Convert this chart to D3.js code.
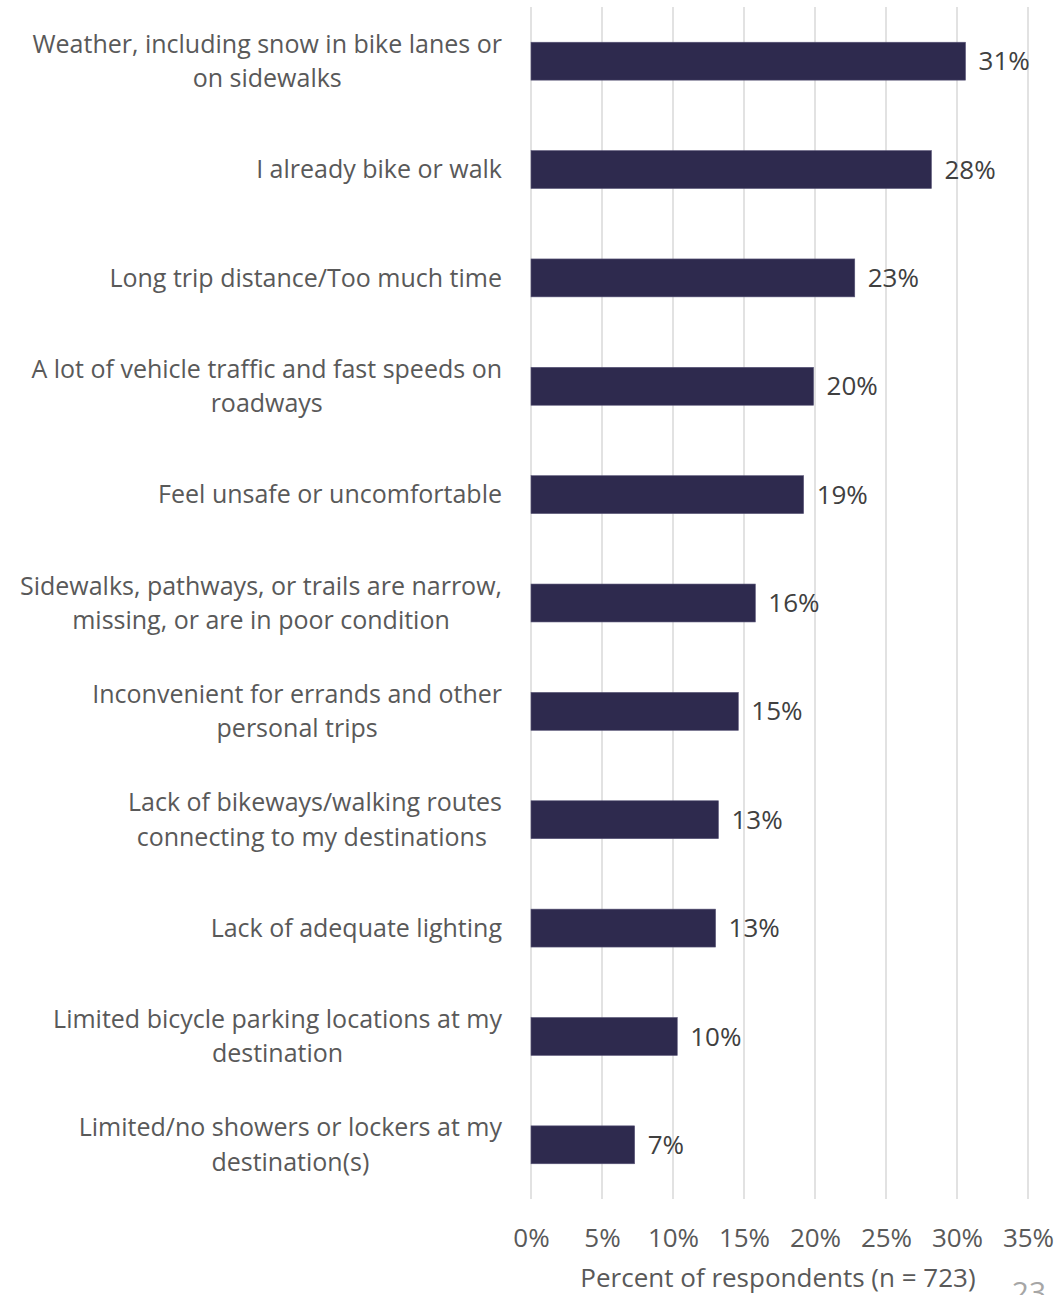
<!DOCTYPE html>
<html>
<head>
<meta charset="utf-8">
<script src="https://cdn.jsdelivr.net/npm/d3@7"></script>
<style>
  html, body { margin: 0; padding: 0; background: #ffffff; }
  svg text { font-family: "Open Sans", "Noto Sans", sans-serif; white-space: pre; }
</style>
</head>
<body>
<svg id="chart" width="1061" height="1295"></svg>
<script>
// Barriers to biking or walking, share of respondents
const categories = [
  ["Weather, including snow in bike lanes or", "on sidewalks"],
  ["I already bike or walk"],
  ["Long trip distance/Too much time"],
  ["A lot of vehicle traffic and fast speeds on", "roadways"],
  ["Feel unsafe or uncomfortable"],
  ["Sidewalks, pathways, or trails are narrow,", "missing, or are in poor condition"],
  ["Inconvenient for errands and other", "personal trips"],
  ["Lack of bikeways/walking routes", "connecting to my destinations "],
  ["Lack of adequate lighting"],
  ["Limited bicycle parking locations at my", "destination"],
  ["Limited/no showers or lockers at my", "destination(s)"]
];
const values = [0.306, 0.282, 0.228, 0.199, 0.192, 0.158, 0.146, 0.132, 0.130, 0.103, 0.073];
const tickValues = [0, 0.05, 0.10, 0.15, 0.20, 0.25, 0.30, 0.35];
const axisTitle = "Percent of respondents (n = 723)";
const pageNumber = "23";

const data = categories.map((lines, i) => ({ key: i, lines, value: values[i] }));

const svg = d3.select("#chart");
const plot = { left: 531, right: 1028, top: 7, bottom: 1199 };

const x = d3.scaleLinear().domain([0, 0.35]).range([plot.left, plot.right]);
const y = d3.scaleBand().domain(data.map(d => d.key))
  .range([plot.top, plot.bottom]).paddingInner(0.65).paddingOuter(0.325);

// vertical gridlines
svg.append("g").selectAll("line").data(tickValues).join("line")
  .attr("x1", d => x(d)).attr("x2", d => x(d))
  .attr("y1", plot.top).attr("y2", plot.bottom)
  .attr("stroke", "#d9d9d9").attr("stroke-width", 1.5);

// x axis tick labels
const xAxis = d3.axisBottom(x).tickValues(tickValues).tickFormat(d3.format(".0%")).tickSize(0).tickPadding(0);
const gx = svg.append("g").attr("transform", `translate(0,${plot.bottom + 39})`).call(xAxis);
gx.select(".domain").remove();
gx.selectAll("text").attr("font-size", 26).attr("fill", "#595959")
  .attr("font-family", '"Open Sans", sans-serif').attr("dy", "0.35em");

// bars
svg.append("g").selectAll("rect").data(data).join("rect")
  .attr("x", x(0)).attr("y", d => y(d.key))
  .attr("width", d => x(d.value) - x(0)).attr("height", y.bandwidth())
  .attr("fill", "#2e2a4e").attr("stroke", "#5a5678").attr("stroke-width", 0.6);

// value labels
svg.append("g").selectAll("text").data(data).join("text")
  .attr("x", d => x(d.value) + 13).attr("y", d => y(d.key) + y.bandwidth() / 2)
  .attr("dy", "0.35em").attr("font-size", 26).attr("fill", "#404040")
  .text(d => d3.format(".0%")(d.value));

// category labels: each line centred, block right-aligned against the plot
const labelRight = 502, lineHeight = 34.5;
const labelG = svg.append("g");
data.forEach(d => {
  const g = labelG.append("g");
  const texts = g.selectAll("text").data(d.lines).join("text")
    .attr("font-size", 25).attr("fill", "#595959").attr("text-anchor", "middle")
    .attr("dy", "0.35em")
    .text(t => t);
  const widths = texts.nodes().map(n => n.getComputedTextLength());
  const maxW = d3.max(widths);
  const cx = labelRight - maxW / 2;
  const cy = y(d.key) + y.bandwidth() / 2;
  const n = d.lines.length;
  texts.attr("x", cx).attr("y", (t, i) => cy + (i - (n - 1) / 2) * lineHeight);
});

// axis title
svg.append("text")
  .attr("x", 778).attr("y", 1287)
  .attr("text-anchor", "middle").attr("font-size", 26).attr("fill", "#595959")
  .text(axisTitle);

// page number
svg.append("text")
  .attr("x", 1029).attr("y", 1303)
  .attr("text-anchor", "middle").attr("font-size", 30).attr("fill", "#a6a6a6")
  .text(pageNumber);
</script>
</body>
</html>
